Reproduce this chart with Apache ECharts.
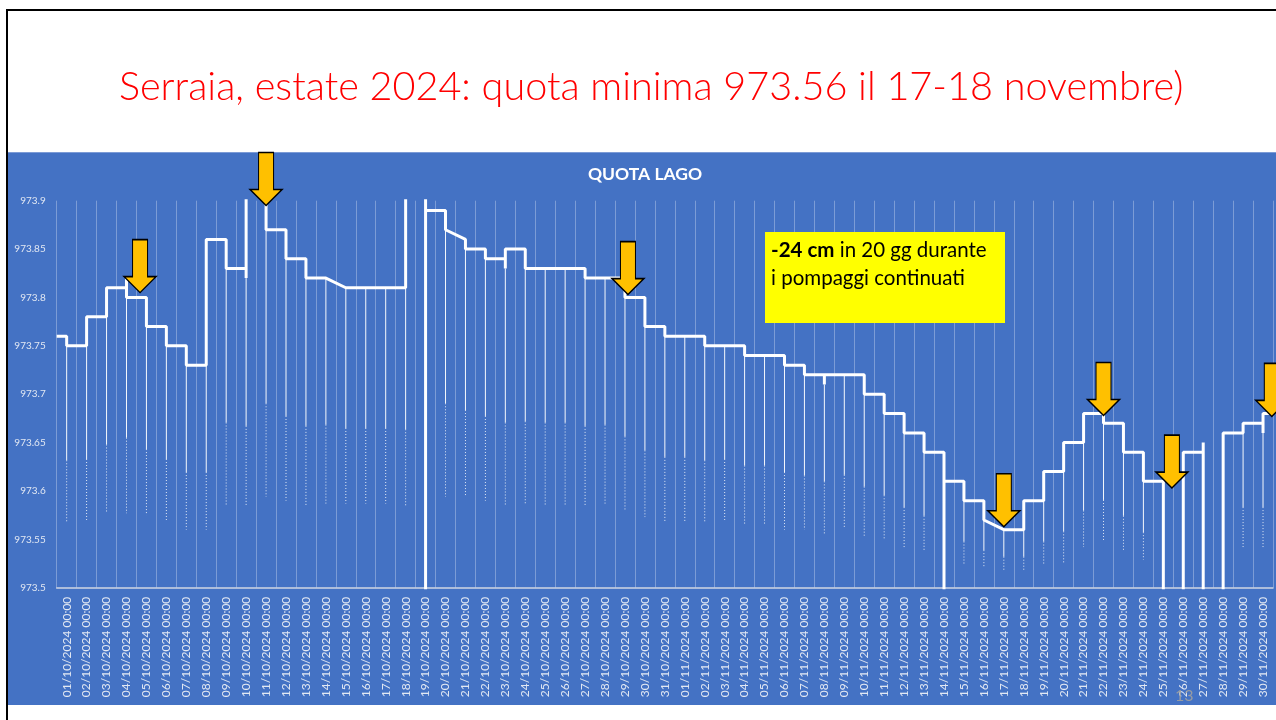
<!DOCTYPE html>
<html>
<head>
<meta charset="utf-8">
<script src="https://cdn.jsdelivr.net/npm/echarts@6/dist/echarts.min.js"></script>
<style>
html,body{margin:0;padding:0;background:#fff;}
#chart{width:1276px;height:720px;}
</style>
</head>
<body>
<div id="chart"></div>
<script>
// ---------- DATA ----------
const slideTitle = 'Serraia, estate 2024: quota minima 973.56 il 17-18 novembre)';
const chartTitle = 'QUOTA LAGO';
const dayLabels = [
 '01/10/2024 00:00','02/10/2024 00:00','03/10/2024 00:00','04/10/2024 00:00','05/10/2024 00:00',
 '06/10/2024 00:00','07/10/2024 00:00','08/10/2024 00:00','09/10/2024 00:00','10/10/2024 00:00',
 '11/10/2024 00:00','12/10/2024 00:00','13/10/2024 00:00','14/10/2024 00:00','15/10/2024 00:00',
 '16/10/2024 00:00','17/10/2024 00:00','18/10/2024 00:00','19/10/2024 00:00','20/10/2024 00:00',
 '21/10/2024 00:00','22/10/2024 00:00','23/10/2024 00:00','24/10/2024 00:00','25/10/2024 00:00',
 '26/10/2024 00:00','27/10/2024 00:00','28/10/2024 00:00','29/10/2024 00:00','30/10/2024 00:00',
 '31/10/2024 00:00','01/11/2024 00:00','02/11/2024 00:00','03/11/2024 00:00','04/11/2024 00:00',
 '05/11/2024 00:00','06/11/2024 00:00','07/11/2024 00:00','08/11/2024 00:00','09/11/2024 00:00',
 '10/11/2024 00:00','11/11/2024 00:00','12/11/2024 00:00','13/11/2024 00:00','14/11/2024 00:00',
 '15/11/2024 00:00','16/11/2024 00:00','17/11/2024 00:00','18/11/2024 00:00','19/11/2024 00:00',
 '20/11/2024 00:00','21/11/2024 00:00','22/11/2024 00:00','23/11/2024 00:00','24/11/2024 00:00',
 '25/11/2024 00:00','26/11/2024 00:00','27/11/2024 00:00','28/11/2024 00:00','29/11/2024 00:00',
 '30/11/2024 00:00'
];
const yTicks = [973.5, 973.55, 973.6, 973.65, 973.7, 973.75, 973.8, 973.85, 973.9];
// level before the first midnight
const startLevel = 973.76;
// level reached at each midnight (index = day), held until the next midnight
// (973.95 = off-scale high, 973.40 = missing/off-scale low)
const levelFromDay = [
 973.75, 973.78, 973.81, 973.80, 973.77, 973.75, 973.73, 973.86, 973.83, 973.95,
 973.87, 973.84, 973.82, 973.82, 973.81, 973.81, 973.81, 973.95, 973.89, 973.87,
 973.85, 973.84, 973.85, 973.83, 973.83, 973.83, 973.82, 973.82, 973.80, 973.77,
 973.76, 973.76, 973.75, 973.75, 973.74, 973.74, 973.73, 973.72, 973.72, 973.72,
 973.70, 973.68, 973.66, 973.64, 973.61, 973.59, 973.57, 973.56, 973.59, 973.62,
 973.65, 973.68, 973.67, 973.64, 973.61, 973.40, 973.64, 973.40, 973.66, 973.67,
 973.68
];
// days whose level drifts to a different value before the next midnight
const driftDays = [13, 19, 46];
const driftEnds = [973.81, 973.86, 973.56];
// short excursions at a midnight
const spikeDays = [3, 9, 18, 22, 38, 44, 57, 60];
const spikeValues = [973.82, 973.82, 973.40, 973.83, 973.71, 973.40, 973.65, 973.66];
// lowest value reached by the thin readings hanging below each midnight
const hangBottom = [
 973.568, 973.570, 973.577, 973.577, 973.575, 973.570, 973.560, 973.560, 973.585, 973.585,
 973.594, 973.590, 973.585, 973.587, 973.587, 973.587, 973.587, 973.585, null,    973.594,
 973.594, 973.590, 973.585, 973.587, 973.585, 973.585, 973.585, 973.587, 973.579, 973.573,
 973.568, 973.568, 973.568, 973.570, 973.565, 973.565, 973.560, 973.560, 973.556, 973.561,
 973.553, 973.550, 973.542, 973.539, null,    973.525, 973.522, 973.517, 973.517, 973.525,
 973.525, 973.542, 973.548, 973.539, 973.529, null,    null,    null,    null,    973.542,
 973.542
];
// arrow tips [day position, level]
const arrowTips = [
 [3.68, 973.805], [10.0, 973.895], [28.15, 973.803], [47.0, 973.563],
 [52.0, 973.678], [55.43, 973.603], [60.44, 973.677]
];
const noteBold = '-24 cm';
const noteRest = ' in 20 gg durante';
const noteLine2 = 'i pompaggi continuati';
const slideNumber = '13';

// ---------- BUILD SERIES DATA ----------
const stepPts = [[-0.5, startLevel]];
const hangData = [];
let prevEnd = startLevel;
for (let i = 0; i < levelFromDay.length; i++) {
  const pts = [prevEnd];
  stepPts.push([i, prevEnd]);
  const si = spikeDays.indexOf(i);
  if (si >= 0) { stepPts.push([i, spikeValues[si]]); pts.push(spikeValues[si]); }
  stepPts.push([i, levelFromDay[i]]);
  pts.push(levelFromDay[i]);
  const di = driftDays.indexOf(i);
  prevEnd = di >= 0 ? driftEnds[di] : levelFromDay[i];
  if (hangBottom[i] != null) hangData.push([i, Math.min.apply(null, pts), hangBottom[i]]);
}
stepPts.push([levelFromDay.length - 0.5, prevEnd]);

const arrowPath = 'path://M8.5 0 L23.5 0 L23.5 37 L32 37 L16 53 L0 37 L8.5 37 Z';

const chart = echarts.init(document.getElementById('chart'), null, {renderer: 'canvas'});
const option = {
  backgroundColor: '#ffffff',
  animation: false,
  grid: {left: 56.7, right: 3, top: 200.7, bottom: 132.3, containLabel: false},
  xAxis: [
    {
      type: 'category', data: dayLabels, boundaryGap: true,
      axisLine: {show: true, lineStyle: {color: '#d0d6e2', width: 1.5}},
      axisTick: {show: false},
      splitLine: {show: true, interval: 0, lineStyle: {color: 'rgba(255,255,255,0.3)', width: 1}},
      axisLabel: {interval: 0, rotate: 90, margin: 9, color: '#e2e8f3', fontFamily: 'Lato', fontSize: 12}
    },
    {type: 'value', min: -0.5, max: levelFromDay.length - 0.5, show: false}
  ],
  yAxis: {
    type: 'value', min: yTicks[0], max: yTicks[yTicks.length - 1], interval: 0.05,
    axisLine: {show: false}, axisTick: {show: false}, splitLine: {show: false},
    axisLabel: {color: '#e2e8f3', fontFamily: 'Lato', fontSize: 10, margin: 11,
      formatter: v => String(+v.toFixed(2))}
  },
  series: [
    {
      type: 'custom', xAxisIndex: 1, yAxisIndex: 0, data: hangData, clip: true, z: 3,
      encode: {x: 0, y: [1, 2]},
      renderItem: function (params, api) {
        const x = api.value(0);
        const p1 = api.coord([x, api.value(1)]);
        const p2 = api.coord([x, api.value(2)]);
        const ym = p1[1] + (p2[1] - p1[1]) * 0.65;
        return {type: 'group', children: [
          {type: 'line', shape: {x1: p1[0], y1: p1[1], x2: p1[0], y2: ym},
            style: {stroke: 'rgba(255,255,255,0.95)', lineWidth: 1}},
          {type: 'line', shape: {x1: p1[0], y1: ym, x2: p1[0], y2: p2[1]},
            style: {stroke: 'rgba(255,255,255,0.85)', lineWidth: 1, lineDash: [1, 2]}}
        ]};
      }
    },
    {
      type: 'line', xAxisIndex: 1, yAxisIndex: 0, data: stepPts, showSymbol: false,
      clip: true, z: 4, lineStyle: {color: '#ffffff', width: 3}
    },
    {
      type: 'scatter', xAxisIndex: 1, yAxisIndex: 0, data: arrowTips, clip: false, z: 10,
      symbol: arrowPath, symbolSize: [32, 53], symbolOffset: [0, '-50%'],
      itemStyle: {color: '#FFC000', borderColor: '#000000', borderWidth: 1.3, opacity: 1},
      emphasis: {disabled: true}
    }
  ],
  graphic: [
    {type: 'rect', z: -10, silent: true, shape: {x: 8, y: 152, width: 1268, height: 553},
      style: {fill: '#4472C4'}},
    {type: 'line', z: -9, silent: true, shape: {x1: 8, y1: 152.5, x2: 1276, y2: 152.5},
      style: {stroke: '#7c9bd6', lineWidth: 1}},
    {type: 'polyline', z: 50, silent: true, shape: {points: [[7, 720], [7, 10], [1276, 10]]},
      style: {stroke: '#000000', lineWidth: 2, fill: null}},
    {type: 'text', z: 50, silent: true, x: 119, y: 67,
      style: {text: slideTitle, fill: '#FF0000', fontFamily: 'Lato', fontWeight: 300, fontSize: 39.6}},
    {type: 'text', z: 50, silent: true, x: 645, y: 174,
      style: {text: chartTitle, fill: '#ffffff', fontFamily: 'Lato', fontWeight: 'bold', fontSize: 17.5,
        align: 'center', verticalAlign: 'middle'}},
    {type: 'rect', z: 100, silent: true, shape: {x: 765, y: 232, width: 240, height: 91},
      style: {fill: '#FFFF00'}},
    {type: 'text', z: 101, silent: true, x: 771, y: 236,
      style: {text: '{b|' + noteBold + '}' + noteRest + '\n' + noteLine2,
        fill: '#000000', fontFamily: 'Lato', fontSize: 20.5, lineHeight: 28,
        rich: {b: {fontWeight: 'bold', fontFamily: 'Lato', fontSize: 20.5, lineHeight: 28, fill: '#000000'}}}},
    {type: 'text', z: 50, silent: true, x: 1175, y: 688,
      style: {text: slideNumber, fill: 'rgba(160,160,160,0.9)', fontFamily: 'Lato', fontSize: 16}}
  ]
};
chart.setOption(option);
</script>
</body>
</html>
